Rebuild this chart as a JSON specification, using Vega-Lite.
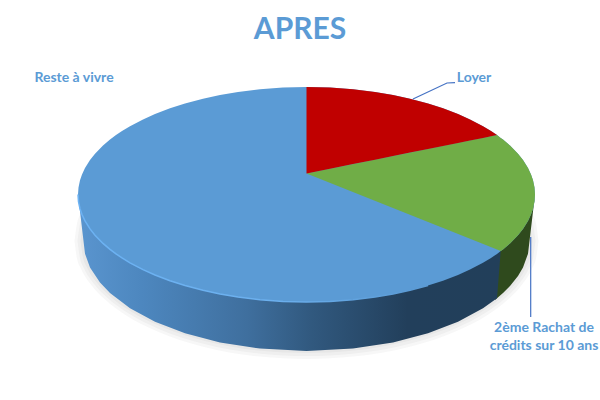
{
"$schema":"https://vega.github.io/schema/vega-lite/v6.json",
"width":600,"height":400,"padding":0,"autosize":"none","background":"white",
"title":{"text":"APRES","font":"Lato","fontSize":30,"fontWeight":"bold","color":"#5b9bd5","anchor":"middle","offset":-45},
"config":{"view":{"stroke":null}},
"datasets":{
"shadow":[
{"r":1,"x":80.5,"y":241,"y2":241},{"r":1,"x":82.8,"y":225.2,"y2":256.8},{"r":1,"x":87.3,"y":213.8,"y2":268.2},{"r":1,"x":96.3,"y":199.9,"y2":282.1},{"r":1,"x":109.9,"y":185.8,"y2":296.2},{"r":1,"x":130.2,"y":170.9,"y2":311.1},{"r":1,"x":159.6,"y":155.9,"y2":326.1},{"r":1,"x":204.8,"y":141,"y2":341},{"r":1,"x":261.3,"y":131.2,"y2":350.8},{"r":1,"x":306.5,"y":129,"y2":353},{"r":1,"x":351.7,"y":131.2,"y2":350.8},{"r":1,"x":408.2,"y":141,"y2":341},{"r":1,"x":453.4,"y":155.9,"y2":326.1},{"r":1,"x":482.8,"y":170.9,"y2":311.1},{"r":1,"x":503.1,"y":185.8,"y2":296.2},{"r":1,"x":516.7,"y":199.9,"y2":282.1},{"r":1,"x":525.7,"y":213.8,"y2":268.2},{"r":1,"x":530.2,"y":225.2,"y2":256.8},{"r":1,"x":532.5,"y":241,"y2":241},
{"r":2,"x":77.5,"y":241,"y2":241},{"r":2,"x":79.8,"y":224.8,"y2":257.2},{"r":2,"x":84.4,"y":213.1,"y2":268.9},{"r":2,"x":93.5,"y":198.8,"y2":283.2},{"r":2,"x":107.3,"y":184.3,"y2":297.7},{"r":2,"x":127.9,"y":169,"y2":313},{"r":2,"x":157.6,"y":153.6,"y2":328.4},{"r":2,"x":203.5,"y":138.3,"y2":343.7},{"r":2,"x":260.7,"y":128.3,"y2":353.7},{"r":2,"x":306.5,"y":126,"y2":356},{"r":2,"x":352.3,"y":128.3,"y2":353.7},{"r":2,"x":409.5,"y":138.3,"y2":343.7},{"r":2,"x":455.4,"y":153.6,"y2":328.4},{"r":2,"x":485.1,"y":169,"y2":313},{"r":2,"x":505.7,"y":184.3,"y2":297.7},{"r":2,"x":519.5,"y":198.8,"y2":283.2},{"r":2,"x":528.6,"y":213.1,"y2":268.9},{"r":2,"x":533.2,"y":224.8,"y2":257.2},{"r":2,"x":535.5,"y":241,"y2":241},
{"r":3,"x":74.5,"y":241,"y2":241},{"r":3,"x":76.8,"y":224.4,"y2":257.6},{"r":3,"x":81.5,"y":212.3,"y2":269.7},{"r":3,"x":90.7,"y":197.7,"y2":284.3},{"r":3,"x":104.7,"y":182.8,"y2":299.2},{"r":3,"x":125.5,"y":167.1,"y2":314.9},{"r":3,"x":155.7,"y":151.3,"y2":330.7},{"r":3,"x":202.1,"y":135.6,"y2":346.4},{"r":3,"x":260.1,"y":125.4,"y2":356.6},{"r":3,"x":306.5,"y":123,"y2":359},{"r":3,"x":352.9,"y":125.4,"y2":356.6},{"r":3,"x":410.9,"y":135.6,"y2":346.4},{"r":3,"x":457.3,"y":151.3,"y2":330.7},{"r":3,"x":487.5,"y":167.1,"y2":314.9},{"r":3,"x":508.3,"y":182.8,"y2":299.2},{"r":3,"x":522.3,"y":197.7,"y2":284.3},{"r":3,"x":531.5,"y":212.3,"y2":269.7},{"r":3,"x":536.2,"y":224.4,"y2":257.6},{"r":3,"x":538.5,"y":241,"y2":241}
],
"wallGreen":[{"x":495,"y":250,"y2":300},{"x":497,"y":250,"y2":298.2},{"x":503,"y":246,"y2":293},{"x":510,"y":240,"y2":286},{"x":518,"y":232,"y2":275.9},{"x":523,"y":225,"y2":267.4},{"x":528,"y":218,"y2":253.7},{"x":529.5,"y":215,"y2":241},{"x":533,"y":206,"y2":211.4},{"x":535,"y":194.5,"y2":194.5}],
"wallBlue":[{"x":78,"y":194.5,"y2":194.5},{"x":83.5,"y":214,"y2":241},{"x":85,"y":218,"y2":253.7},{"x":90,"y":226,"y2":267.4},{"x":100,"y":238,"y2":282.5},{"x":110,"y":246,"y2":293},{"x":130,"y":260,"y2":308.2},{"x":155,"y":272,"y2":321.7},{"x":185,"y":282,"y2":333.2},{"x":220,"y":291,"y2":342.4},{"x":260,"y":297,"y2":348.6},{"x":306.5,"y":299,"y2":351},{"x":353,"y":297,"y2":348.6},{"x":393,"y":291,"y2":342.4},{"x":428,"y":282,"y2":333.2},{"x":458,"y":272,"y2":321.7},{"x":483,"y":260,"y2":308.2},{"x":497,"y":251,"y2":298.2},{"x":500.7,"y":251,"y2":251}],
"disc":[{"x":78,"y":194.5,"y2":194.5},{"x":78.5,"y":187.4,"y2":201.6},{"x":80,"y":180.3,"y2":208.7},{"x":82,"y":174.5,"y2":214.5},{"x":85,"y":168.1,"y2":220.9},{"x":90,"y":160.1,"y2":228.9},{"x":95,"y":153.8,"y2":235.2},{"x":103,"y":145.6,"y2":243.4},{"x":110,"y":139.6,"y2":249.4},{"x":116,"y":135.1,"y2":253.9},{"x":122,"y":131.1,"y2":257.9},{"x":130,"y":126.2,"y2":262.8},{"x":143,"y":119.4,"y2":269.6},{"x":155,"y":114,"y2":275},{"x":170,"y":108.3,"y2":280.7},{"x":185,"y":103.5,"y2":285.5},{"x":203,"y":98.7,"y2":290.3},{"x":220,"y":95,"y2":294},{"x":238,"y":91.9,"y2":297.1},{"x":260,"y":89.2,"y2":299.8},{"x":283,"y":87.6,"y2":301.4},{"x":306.5,"y":87,"y2":302},{"x":330,"y":87.6,"y2":301.4},{"x":353,"y":89.2,"y2":299.8},{"x":375,"y":91.9,"y2":297.1},{"x":393,"y":95,"y2":294},{"x":410,"y":98.7,"y2":290.3},{"x":428,"y":103.5,"y2":285.5},{"x":443,"y":108.3,"y2":280.7},{"x":458,"y":114,"y2":275},{"x":470,"y":119.4,"y2":269.6},{"x":483,"y":126.2,"y2":262.8},{"x":491,"y":131.1,"y2":257.9},{"x":497,"y":135.1,"y2":253.9},{"x":500.7,"y":137.9,"y2":251.1},{"x":503,"y":139.6,"y2":249.4},{"x":510,"y":145.6,"y2":243.4},{"x":518,"y":153.8,"y2":235.2},{"x":523,"y":160.1,"y2":228.9},{"x":528,"y":168.1,"y2":220.9},{"x":531,"y":174.5,"y2":214.5},{"x":533,"y":180.3,"y2":208.7},{"x":534.5,"y":187.4,"y2":201.6},{"x":535,"y":194.5,"y2":194.5}],
"green":[{"x":306.5,"y":173.5,"y2":173.5},{"x":497,"y":135.1,"y2":249.5},{"x":500.7,"y":137.9,"y2":251.1},{"x":503,"y":139.6,"y2":249.4},{"x":510,"y":145.6,"y2":243.4},{"x":518,"y":153.8,"y2":235.2},{"x":523,"y":160.1,"y2":228.9},{"x":528,"y":168.1,"y2":220.9},{"x":531,"y":174.5,"y2":214.5},{"x":533,"y":180.3,"y2":208.7},{"x":534.5,"y":187.4,"y2":201.6},{"x":535,"y":194.5,"y2":194.5}],
"red":[{"x":306.5,"y":87,"y2":173.5},{"x":330,"y":87.6,"y2":168.8},{"x":353,"y":89.2,"y2":164.1},{"x":375,"y":91.9,"y2":159.7},{"x":393,"y":95,"y2":156.1},{"x":410,"y":98.7,"y2":152.6},{"x":428,"y":103.5,"y2":149},{"x":443,"y":108.3,"y2":146},{"x":458,"y":114,"y2":143},{"x":470,"y":119.4,"y2":140.5},{"x":483,"y":126.2,"y2":137.9},{"x":491,"y":131.1,"y2":136.3},{"x":497,"y":135.1,"y2":135.1}],
"leaders":[{"l":"Loyer","o":1,"x":413,"y":99},{"l":"Loyer","o":2,"x":447,"y":83},{"l":"Loyer","o":3,"x":455,"y":82.7},{"l":"Rachat","o":1,"x":530.7,"y":237},{"l":"Rachat","o":2,"x":530.7,"y":317}],
"labels":[{"t":"Reste à vivre","x":74,"y":77.5},{"t":"Loyer","x":474,"y":77.5},{"t":"2ème Rachat de","x":544,"y":327.5},{"t":"crédits sur 10 ans","x":544,"y":346}]
},
"encoding":{
"x":{"field":"x","type":"quantitative","scale":{"domain":[0,600],"nice":false,"zero":false},"axis":null},
"y":{"field":"y","type":"quantitative","scale":{"domain":[0,400],"reverse":true,"nice":false,"zero":false},"axis":null}
},
"layer":[
{"data":{"name":"shadow"},"mark":{"type":"area","interpolate":"monotone","color":"#333333","opacity":0.04},"encoding":{"y2":{"field":"y2"},"detail":{"field":"r"}}},
{"data":{"name":"wallGreen"},"mark":{"type":"area","color":"#2f4a1d"},"encoding":{"y2":{"field":"y2"}}},
{"data":{"name":"wallBlue"},"mark":{"type":"area","color":{"gradient":"linear","x1":0,"y1":0,"x2":1,"y2":0,"stops":[{"offset":0,"color":"#5a95cf"},{"offset":0.15,"color":"#4d87bf"},{"offset":0.4,"color":"#3f6f9e"},{"offset":0.55,"color":"#31597f"},{"offset":0.78,"color":"#223f5b"},{"offset":1,"color":"#223f5a"}]}},"encoding":{"y2":{"field":"y2"}}},
{"data":{"name":"disc"},"mark":{"type":"area","color":"#5b9bd5"},"encoding":{"y2":{"field":"y2"}}},
{"data":{"name":"disc"},"transform":[{"filter":"datum.x <= 428"}],"mark":{"type":"line","strokeWidth":1.5,"color":{"gradient":"linear","x1":0,"y1":0,"x2":1,"y2":0,"stops":[{"offset":0,"color":"#6cb2f3"},{"offset":0.55,"color":"#6cb0ee"},{"offset":0.95,"color":"#5b9bd5"},{"offset":1,"color":"#5b9bd5"}]}},"encoding":{"y":{"field":"y2","type":"quantitative"}}},
{"data":{"name":"green"},"mark":{"type":"area","color":"#70ad47"},"encoding":{"y2":{"field":"y2"}}},
{"data":{"name":"red"},"mark":{"type":"area","color":"#c00000"},"encoding":{"y2":{"field":"y2"}}},
{"data":{"name":"leaders"},"mark":{"type":"line","color":"#4472c4","strokeWidth":1.2},"encoding":{"detail":{"field":"l"},"order":{"field":"o"}}},
{"data":{"name":"labels"},"mark":{"type":"text","font":"Lato","fontSize":14,"fontWeight":"bold","color":"#5b9bd5","align":"center","baseline":"middle"},"encoding":{"text":{"field":"t"}}}
]
}
